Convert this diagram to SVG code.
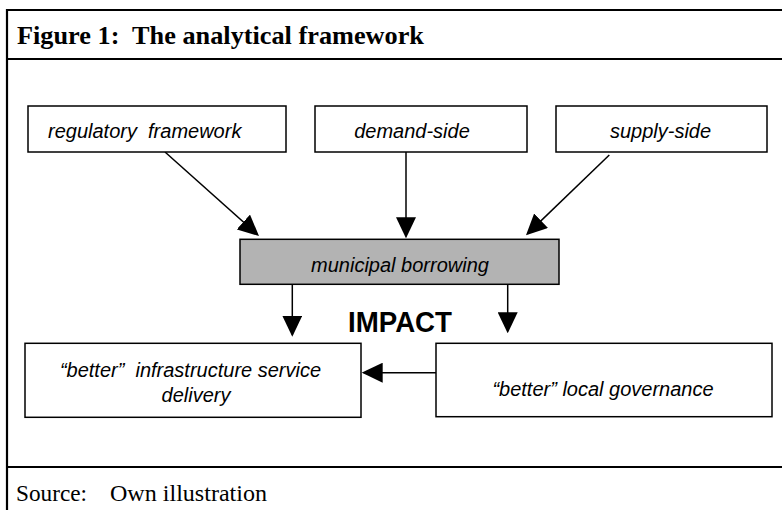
<svg xmlns="http://www.w3.org/2000/svg" width="782" height="510" viewBox="0 0 782 510">
<style>
.frame{stroke:#000;stroke-width:2.2;fill:none}
.box{fill:#fff;stroke:#000;stroke-width:1.5}
.grey{fill:#b3b3b3;stroke:#000;stroke-width:1.5}
.lbl{font-family:"Liberation Sans",Arial,sans-serif;font-style:italic;font-size:20px;fill:#000}
.conn{stroke:#000;stroke-width:1.5;fill:none;marker-end:url(#ah)}
.serif{font-family:"Liberation Serif","Times New Roman",serif;fill:#000}
</style>
<defs>
<marker id="ah" markerUnits="userSpaceOnUse" markerWidth="21" markerHeight="20" refX="19" refY="10" orient="auto">
<path d="M0,0 L21,10 L0,20 z" fill="#000"/>
</marker>
</defs>
<rect width="782" height="510" fill="#fff"/>
<g id="frame">
<line class="frame" x1="7" y1="10" x2="782" y2="10"/>
<line class="frame" x1="7" y1="9" x2="7" y2="510"/>
<line class="frame" x1="7" y1="59" x2="782" y2="59"/>
<line class="frame" x1="7" y1="467" x2="782" y2="467"/>
<text class="serif" x="17" y="44" font-size="25" font-weight="bold" textLength="407" lengthAdjust="spacingAndGlyphs" xml:space="preserve">Figure 1:  The analytical framework</text>
<text class="serif" x="16" y="501" font-size="23" textLength="71" lengthAdjust="spacingAndGlyphs">Source:</text>
<text class="serif" x="110" y="501" font-size="23" textLength="157" lengthAdjust="spacingAndGlyphs">Own illustration</text>
</g>
<g id="connectors">
<line class="conn" x1="165" y1="152" x2="257.5" y2="234.7"/>
<line class="conn" x1="406" y1="152" x2="406" y2="236.3"/>
<line class="conn" x1="609.3" y1="155" x2="527.4" y2="233.9"/>
<line class="conn" x1="292.3" y1="285" x2="292.3" y2="334.7"/>
<line class="conn" x1="507.7" y1="285" x2="507.7" y2="331.3"/>
<line class="conn" x1="436" y1="372.7" x2="363.7" y2="372.7"/>
</g>
<g id="regulatory">
<rect class="box" x="28" y="106" width="258" height="46"/>
<text class="lbl" x="48" y="138" xml:space="preserve">regulatory  framework</text>
</g>
<g id="demand">
<rect class="box" x="315" y="106" width="212" height="46"/>
<text class="lbl" x="412" y="138" text-anchor="middle">demand-side</text>
</g>
<g id="supply">
<rect class="box" x="556" y="106" width="211" height="46"/>
<text class="lbl" x="660.5" y="138" text-anchor="middle">supply-side</text>
</g>
<g id="borrowing">
<rect class="grey" x="240" y="239.3" width="319" height="45"/>
<text class="lbl" x="400" y="272" text-anchor="middle">municipal borrowing</text>
</g>
<g id="impact">
<text x="348" y="332" font-family="'Liberation Sans',Arial,sans-serif" font-weight="bold" font-size="29" textLength="104" lengthAdjust="spacingAndGlyphs">IMPACT</text>
</g>
<g id="infrastructure">
<rect class="box" x="25" y="343.3" width="336" height="74"/>
<text class="lbl" x="190.5" y="377" text-anchor="middle" xml:space="preserve">“better”  infrastructure service</text>
<text class="lbl" x="196" y="402" text-anchor="middle">delivery</text>
</g>
<g id="governance">
<rect class="box" x="436" y="343.3" width="336" height="73.4"/>
<text class="lbl" x="603" y="396" text-anchor="middle">“better” local governance</text>
</g>
</svg>
